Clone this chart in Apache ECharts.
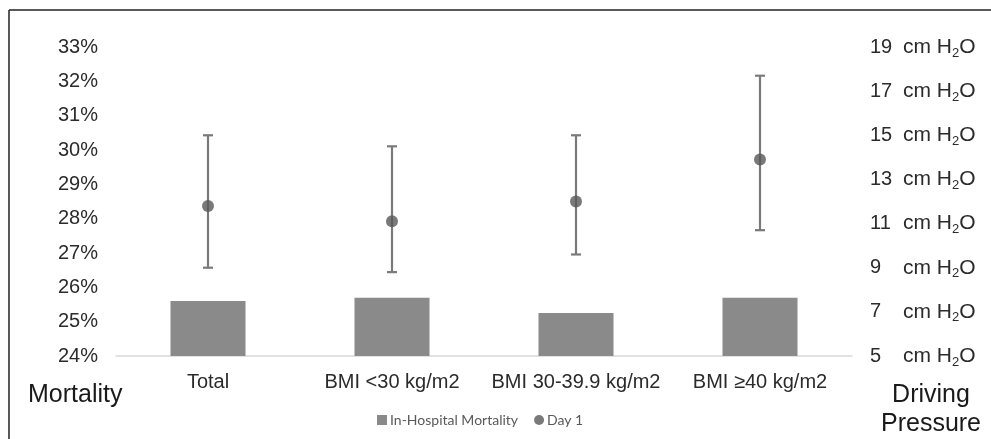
<!DOCTYPE html>
<html>
<head>
<meta charset="utf-8">
<script src="https://cdn.jsdelivr.net/npm/echarts@6/dist/echarts.min.js"></script>
<style>
html,body{margin:0;padding:0;background:#fff;}
#chart{width:991px;height:439px;}
</style>
</head>
<body>
<div id="chart"></div>
<script>
var categories = ['Total', 'BMI <30 kg/m2', 'BMI 30-39.9 kg/m2', 'BMI \u226540 kg/m2'];
var mortality = [25.6, 25.7, 25.25, 25.7];          // %
var day1Mean = [11.8, 11.1, 12.0, 13.9];             // cm H2O
var day1Low = [9.0, 8.8, 9.6, 10.7];
var day1High = [15.0, 14.5, 15.0, 17.7];

var errData = categories.map(function (c, i) { return [i, day1Low[i], day1High[i]]; });

var FONT = '"Liberation Sans", Arial, sans-serif';
var chart = echarts.init(document.getElementById('chart'), null, {renderer: 'canvas'});
chart.setOption({
  backgroundColor: '#ffffff',
  animation: false,
  grid: {left: 116, right: 139, top: 47, bottom: 83},
  legend: {
    data: [
      {name: 'In-Hospital Mortality', icon: 'rect'},
      {name: 'Day 1', icon: 'circle'}
    ],
    left: 372, top: 408,
    itemWidth: 10, itemHeight: 10, itemGap: 16,
    textStyle: {fontFamily: 'Lato, sans-serif', fontSize: 14, color: '#595959', padding: [0,0,0,-2]}
  },
  xAxis: {
    type: 'category',
    data: categories,
    axisLine: {lineStyle: {color: '#d9d9d9', width: 1.5}},
    axisTick: {show: false},
    axisLabel: {fontFamily: FONT, fontSize: 20, color: '#2b2b2b', margin: 16, interval: 0}
  },
  yAxis: [
    {
      type: 'value', min: 24, max: 33, interval: 1,
      axisLine: {show: false}, axisTick: {show: false}, splitLine: {show: false},
      axisLabel: {formatter: '{value}%', fontFamily: FONT, fontSize: 20, color: '#2b2b2b', margin: 18}
    },
    {
      type: 'value', min: 5, max: 19, interval: 2, position: 'right',
      axisLine: {show: false}, axisTick: {show: false}, splitLine: {show: false},
      axisLabel: {
        margin: 18,
        formatter: function (v) { return '{n|' + v + '}{u|cm H}{s|2}{u|O}'; },
        rich: {
          n: {width: 33, fontSize: 20, fontFamily: FONT, color: '#2b2b2b'},
          u: {fontSize: 21, fontFamily: FONT, color: '#2b2b2b'},
          s: {fontSize: 13, fontFamily: FONT, color: '#2b2b2b', padding: [12, 0, 0, 0]}
        }
      }
    }
  ],
  series: [
    {
      name: 'In-Hospital Mortality', type: 'bar', yAxisIndex: 0,
      data: mortality, barWidth: 75,
      itemStyle: {color: '#8a8a8a'}
    },
    {
      name: 'errorbars', type: 'custom', yAxisIndex: 1, z: 3,
      data: errData,
      encode: {x: 0, y: [1, 2]},
      renderItem: function (params, api) {
        var x = api.value(0);
        var pLo = api.coord([x, api.value(1)]);
        var pHi = api.coord([x, api.value(2)]);
        var w = 5;
        var st = {stroke: '#7a7a7a', lineWidth: 2.2};
        return {type: 'group', children: [
          {type: 'line', shape: {x1: pHi[0], y1: pHi[1], x2: pLo[0], y2: pLo[1]}, style: st},
          {type: 'line', shape: {x1: pHi[0] - w, y1: pHi[1], x2: pHi[0] + w, y2: pHi[1]}, style: st},
          {type: 'line', shape: {x1: pLo[0] - w, y1: pLo[1], x2: pLo[0] + w, y2: pLo[1]}, style: st}
        ]};
      }
    },
    {
      name: 'Day 1', type: 'scatter', yAxisIndex: 1, z: 4,
      data: day1Mean, symbol: 'circle', symbolSize: 12,
      itemStyle: {color: '#575757'}
    }
  ],
  graphic: [
    {type: 'line', shape: {x1: 9, y1: 10, x2: 991, y2: 10}, style: {stroke: '#222', lineWidth: 1.5}},
    {type: 'line', shape: {x1: 9, y1: 10, x2: 9, y2: 439}, style: {stroke: '#222', lineWidth: 1.5}},
    {type: 'text', style: {text: 'Mortality', x: 28, y: 395, font: '25px ' + FONT, fill: '#1a1a1a', textVerticalAlign: 'middle'}},
    {type: 'text', style: {text: 'Driving', x: 931, y: 395, font: '25px ' + FONT, fill: '#1a1a1a', textAlign: 'center', textVerticalAlign: 'middle'}},
    {type: 'text', style: {text: 'Pressure', x: 931, y: 424, font: '25px ' + FONT, fill: '#1a1a1a', textAlign: 'center', textVerticalAlign: 'middle'}}
  ]
});
</script>
</body>
</html>
